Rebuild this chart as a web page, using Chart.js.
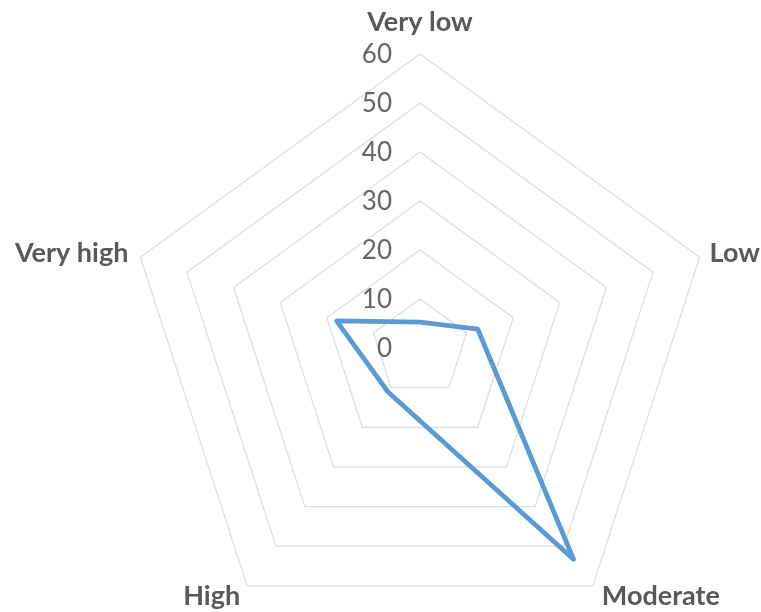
<!DOCTYPE html>
<html>
<head>
<meta charset="utf-8">
<script src="https://cdn.jsdelivr.net/npm/chart.js@4/dist/chart.umd.min.js"></script>
<style>
  html, body { margin: 0; padding: 0; background: #fff; overflow: hidden; }
  #wrap { width: 761px; height: 612px; position: relative; }
</style>
</head>
<body>
<div id="wrap"><canvas id="radarChart"></canvas></div>
<script>
// 데이터
const categories = ['Very low', 'Low', 'Moderate', 'High', 'Very high'];
const seriesValues = [5.3, 12.4, 53.3, 11.1, 17.9];
const tickValues = [0, 10, 20, 30, 40, 50, 60];

const labelColor = '#595959';

// 축 라벨과 눈금 라벨을 엑셀처럼 직접 그림
const excelLabels = {
    id: 'excelLabels',
    afterDraw(chart) {
        const scale = chart.scales.r;
        const ctx = chart.ctx;
        ctx.save();

        // 눈금 라벨 (축 왼쪽)
        ctx.fillStyle = '#666666';
        ctx.font = '26px Lato';
        ctx.textAlign = 'right';
        ctx.textBaseline = 'middle';
        tickValues.forEach(v => {
            const d = scale.getDistanceFromCenterForValue(v);
            ctx.fillText(String(v), scale.xCenter - 28, scale.yCenter - d + 1);
        });

        // 카테고리 라벨
        ctx.fillStyle = labelColor;
        ctx.font = 'bold 27px Lato';
        ctx.textBaseline = 'alphabetic';
        categories.forEach((label, i) => {
            const p = scale.getPointPosition(i, scale.drawingArea);
            const dx = p.x - scale.xCenter;
            const dy = p.y - scale.yCenter;
            let x = p.x, y = p.y;
            if (Math.abs(dx) < 1) {
                ctx.textAlign = 'center';
                y = p.y - 23;
            } else if (dy < 0) {
                ctx.textAlign = dx > 0 ? 'left' : 'right';
                x = p.x + (dx > 0 ? 10 : -12);
                y = p.y + 5;
            } else {
                ctx.textAlign = dx > 0 ? 'left' : 'right';
                x = p.x + (dx > 0 ? 9 : -7);
                y = p.y + 19;
            }
            ctx.fillText(label, x, y);
        });
        ctx.restore();
    }
};

const ctx = document.getElementById('radarChart').getContext('2d');
const radarChart = new Chart(ctx, {
    type: 'radar',
    data: {
        labels: categories,
        datasets: [{
            data: seriesValues,
            borderColor: '#5b9bd5',
            backgroundColor: 'rgba(0,0,0,0)',
            borderWidth: 4.8,
            borderJoinStyle: 'round',
            fill: false,
            pointRadius: 0,
            pointHoverRadius: 0,
            tension: 0
        }]
    },
    options: {
        responsive: true,
        maintainAspectRatio: false,
        animation: false,
        events: [],
        plugins: {
            legend: { display: false },
            tooltip: { enabled: false }
        },
        scales: {
            r: {
                min: 0,
                max: 60,
                ticks: { display: false, stepSize: 10 },
                grid: { color: '#dedede', lineWidth: 1.3 },
                angleLines: { display: false },
                pointLabels: { display: false },
                afterFit(scale) {
                    // 엑셀 차트의 중심과 반지름에 맞춤
                    scale.xCenter = 420;
                    scale.yCenter = 348;
                    scale.drawingArea = 294;
                }
            }
        }
    },
    plugins: [excelLabels]
});
</script>
</body>
</html>
